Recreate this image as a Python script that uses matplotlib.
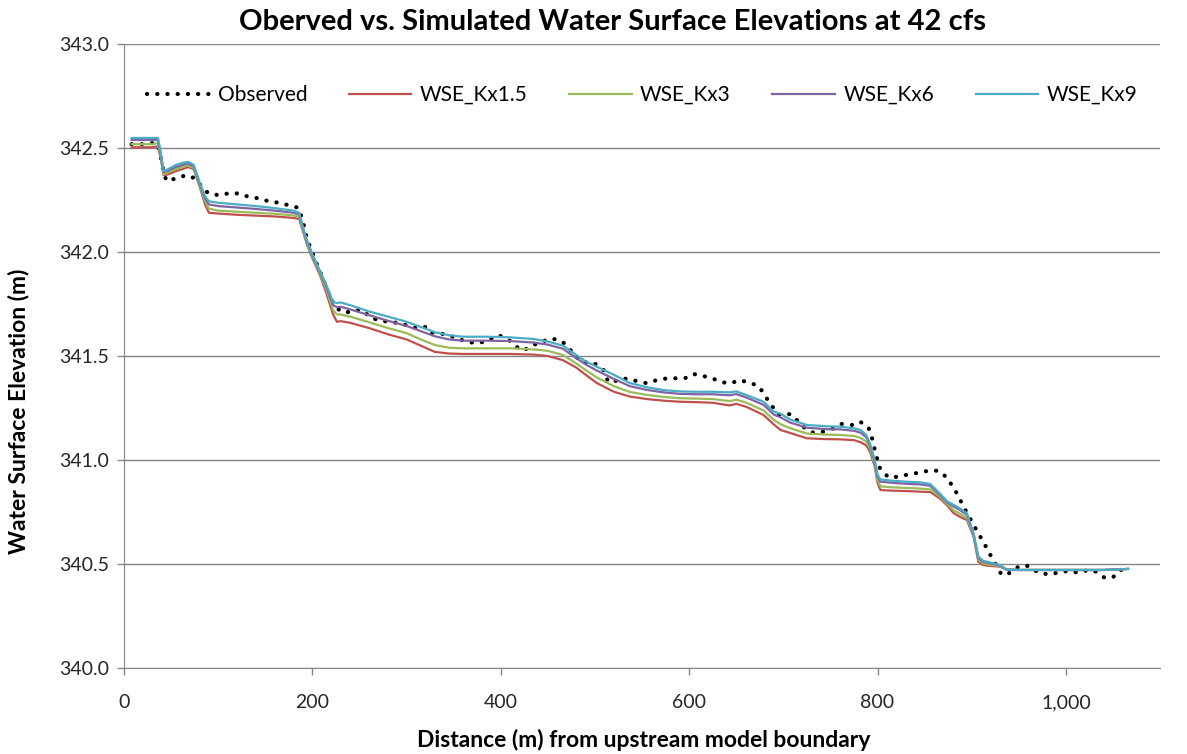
import matplotlib.pyplot as plt
from matplotlib.ticker import StrMethodFormatter, MultipleLocator

plt.rcParams['font.family'] = ['Lato', 'DejaVu Sans']

# Observed water surface
obs_x = [8, 15, 22, 30, 36, 40, 42, 45, 56, 66, 74, 89.5, 100, 111, 121, 132, 143, 153,
         164, 174, 185, 190, 192, 197, 205, 213, 220, 227.5, 234.7, 245.3, 254.1, 261.2,
         271.8, 282.4, 293.1, 301.9, 310.8, 321.4, 326.7, 335.5, 344.3, 356.8, 365.6, 378,
         386.8, 397.4, 408.1, 415.2, 424, 432.9, 443.5, 454.1, 464.7, 471.8, 478.9, 487,
         494.1, 503, 509, 514, 519.5, 529.5, 540.1, 555, 565.6, 576.9, 587.5, 597.5, 605.2,
         615.8, 626.4, 636.3, 644.5, 653, 663.6, 673.5, 679.9, 685.2, 695.5, 707.9, 723.1,
         731.9, 742.5, 752, 762, 772.7, 781.5, 790.3, 793.9, 796.3, 799.2, 800.9, 811.5,
         823.2, 833.8, 844.4, 854, 864.6, 873.5, 879.5, 884.8, 889.5, 894.8, 900.1, 905.4,
         910.7, 916, 921.3, 931.9, 941.5, 950.6, 960.6, 970.8, 981.4, 992, 1002.7, 1013.3,
         1023.9, 1032.1, 1040.6, 1049.8, 1057.5, 1066.4]
obs_y = [342.52, 342.52, 342.52, 342.525, 342.52, 342.435, 342.387, 342.343, 342.356,
         342.371, 342.358, 342.283, 342.275, 342.283, 342.283, 342.267, 342.259, 342.246,
         342.238, 342.227, 342.214, 342.15, 342.10, 342.03, 341.94, 341.85, 341.77, 341.725,
         341.708, 341.721, 341.718, 341.686, 341.670, 341.665, 341.657, 341.646, 341.633,
         341.641, 341.612, 341.609, 341.601, 341.580, 341.566, 341.564, 341.577, 341.601,
         341.580, 341.548, 341.526, 341.550, 341.569, 341.585, 341.572, 341.542, 341.500,
         341.468, 341.473, 341.457, 341.434, 341.376, 341.376, 341.393, 341.384, 341.369,
         341.384, 341.393, 341.393, 341.395, 341.413, 341.403, 341.389, 341.373, 341.369,
         341.384, 341.373, 341.356, 341.316, 341.275, 341.215, 341.221, 341.152, 341.131,
         341.136, 341.15, 341.173, 341.168, 341.184, 341.157, 341.111, 341.063, 341.015,
         340.970, 340.916, 340.919, 340.932, 340.938, 340.948, 340.948, 340.916, 340.874,
         340.835, 340.791, 340.746, 340.703, 340.659, 340.618, 340.575, 340.530, 340.446,
         340.457, 340.489, 340.489, 340.457, 340.449, 340.457, 340.466, 340.457, 340.470,
         340.462, 340.434, 340.434, 340.470, 340.473]

# Model stations
dist = [8, 20, 30, 36, 39, 42, 47, 55, 62, 68, 74, 80, 86, 90, 100, 120, 140, 160, 180,
        186, 190, 194, 200, 208, 215, 222, 226, 230, 240, 260, 280, 300, 315, 330, 345,
        360, 385, 410, 435, 450, 466, 480, 490, 502, 520, 537, 555, 573, 590, 608, 625,
        643, 650, 661, 679, 690, 697, 707, 725, 745, 760, 775, 782, 788, 792, 797, 800,
        803, 815, 830, 845, 856, 866, 874, 881, 888, 895, 902, 907, 912, 918, 930, 937,
        950, 980, 1010, 1040, 1066]

wse_kx9 = [342.55, 342.55, 342.55, 342.55, 342.48, 342.39, 342.40, 342.42, 342.43, 342.435,
           342.42, 342.34, 342.27, 342.245, 342.238, 342.230, 342.222, 342.212, 342.200,
           342.19, 342.12, 342.06, 341.99, 341.91, 341.84, 341.76, 341.755, 341.758, 341.745,
           341.715, 341.69, 341.665, 341.64, 341.615, 341.60, 341.593, 341.593, 341.59,
           341.582, 341.57, 341.55, 341.505, 341.475, 341.448, 341.41, 341.37, 341.35,
           341.336, 341.33, 341.328, 341.328, 341.325, 341.33, 341.312, 341.28, 341.232,
           341.222, 341.195, 341.168, 341.162, 341.16, 341.152, 341.144, 341.12, 341.08,
           341.0, 340.93, 340.906, 340.90, 340.895, 340.892, 340.884, 340.839, 340.80,
           340.783, 340.765, 340.743, 340.646, 340.534, 340.515, 340.508, 340.494, 340.472,
           340.47, 340.47, 340.47, 340.47, 340.475]

wse_kx6 = [342.54, 342.54, 342.54, 342.54, 342.47, 342.385, 342.393, 342.41, 342.42, 342.428,
           342.413, 342.334, 342.26, 342.23, 342.222, 342.215, 342.208, 342.20, 342.19,
           342.182, 342.115, 342.055, 341.985, 341.905, 341.83, 341.745, 341.735, 341.737,
           341.725, 341.697, 341.67, 341.645, 341.62, 341.595, 341.58, 341.574, 341.574,
           341.572, 341.565, 341.555, 341.535, 341.49, 341.46, 341.43, 341.39, 341.355,
           341.337, 341.325, 341.318, 341.316, 341.316, 341.311, 341.317, 341.30, 341.265,
           341.218, 341.205, 341.18, 341.155, 341.148, 341.147, 341.14, 341.131, 341.11,
           341.07, 340.993, 340.92, 340.895, 340.89, 340.885, 340.882, 340.875, 340.833,
           340.795, 340.775, 340.757, 340.735, 340.642, 340.528, 340.51, 340.504, 340.492,
           340.472, 340.47, 340.47, 340.47, 340.47, 340.475]

wse_kx3 = [342.52, 342.52, 342.52, 342.525, 342.46, 342.375, 342.385, 342.40, 342.41, 342.418,
           342.405, 342.326, 342.245, 342.21, 342.20, 342.195, 342.19, 342.185, 342.177,
           342.17, 342.107, 342.047, 341.977, 341.897, 341.815, 341.72, 341.70, 341.70,
           341.69, 341.663, 341.635, 341.61, 341.58, 341.553, 341.54, 341.537, 341.537,
           341.537, 341.532, 341.525, 341.505, 341.465, 341.433, 341.397, 341.355, 341.327,
           341.313, 341.303, 341.297, 341.295, 341.293, 341.283, 341.29, 341.275, 341.238,
           341.192, 341.172, 341.153, 341.127, 341.122, 341.12, 341.115, 341.106, 341.088,
           341.055, 340.98, 340.905, 340.873, 340.868, 340.865, 340.862, 340.858, 340.824,
           340.787, 340.757, 340.74, 340.72, 340.636, 340.52, 340.502, 340.496, 340.489,
           340.472, 340.47, 340.47, 340.47, 340.47, 340.475]

wse_kx15 = [342.505, 342.505, 342.505, 342.51, 342.45, 342.37, 342.375, 342.39, 342.40, 342.41,
            342.40, 342.32, 342.23, 342.19, 342.186, 342.18, 342.176, 342.172, 342.165,
            342.16, 342.10, 342.04, 341.97, 341.89, 341.80, 341.70, 341.665, 341.668, 341.66,
            341.635, 341.605, 341.58, 341.55, 341.52, 341.512, 341.51, 341.51, 341.51,
            341.507, 341.50, 341.48, 341.445, 341.41, 341.37, 341.328, 341.305, 341.293,
            341.285, 341.28, 341.278, 341.275, 341.262, 341.27, 341.255, 341.216, 341.17,
            341.144, 341.13, 341.104, 341.10, 341.099, 341.095, 341.085, 341.07, 341.04,
            340.97, 340.89, 340.855, 340.852, 340.85, 340.847, 340.845, 340.815, 340.78,
            340.743, 340.725, 340.71, 340.63, 340.51, 340.494, 340.49, 340.486, 340.472,
            340.47, 340.47, 340.47, 340.47, 340.475]

fig = plt.figure(figsize=(11.87, 7.54), dpi=100)
ax = fig.add_axes([0.1045, 0.1146, 0.8728, 0.8264])

# Observed as round-dot line
ax.plot(obs_x, obs_y, color='black', linewidth=3.0, linestyle=(0, (0.05, 2.4)),
        dash_capstyle='round', label='Observed', zorder=2)
ax.plot(dist, wse_kx15, color='#C0504D', linewidth=1.6, label='WSE_Kx1.5', zorder=3)
ax.plot(dist, wse_kx3, color='#9BBB59', linewidth=1.6, label='WSE_Kx3', zorder=3)
ax.plot(dist, wse_kx6, color='#8064A2', linewidth=1.6, label='WSE_Kx6', zorder=3)
ax.plot(dist, wse_kx9, color='#4BACC6', linewidth=1.6, label='WSE_Kx9', zorder=3)

ax.set_xlim(0, 1100)
ax.set_ylim(340.0, 343.0)
ax.xaxis.set_major_locator(MultipleLocator(200))
ax.yaxis.set_major_locator(MultipleLocator(0.5))
ax.xaxis.set_major_formatter(StrMethodFormatter('{x:,.0f}'))
ax.yaxis.set_major_formatter(StrMethodFormatter('{x:.1f}'))

# Excel-like look
ax.grid(axis='y', color='#868686', linewidth=1.0)
ax.set_axisbelow(True)
for s in ['top', 'right']:
    ax.spines[s].set_visible(False)
for s in ['left', 'bottom']:
    ax.spines[s].set_color('#868686')
ax.tick_params(axis='both', colors='#868686', labelcolor='#262626', labelsize=14,
               length=5, width=1)
ax.tick_params(axis='x', pad=14)
ax.tick_params(axis='y', pad=6)

# Titles placed on the figure like Excel's chart area
fig.text(0.516, 0.971, 'Oberved vs. Simulated Water Surface Elevations at 42 cfs',
         fontsize=21, fontweight='bold', ha='center', va='center')
fig.text(0.5426, 0.019, 'Distance (m) from upstream model boundary',
         fontsize=16.5, fontweight='bold', ha='center', va='center')
fig.text(0.016, 0.454, 'Water Surface Elevation (m)', fontsize=16.5, fontweight='bold',
         ha='center', va='center', rotation=90)

ax.legend(loc='center', bbox_to_anchor=(0.5, 0.919), ncol=5, frameon=False,
          fontsize=15, handlelength=3.0, columnspacing=2.0, handletextpad=0.4)

fig.savefig('out.png', dpi=100)
